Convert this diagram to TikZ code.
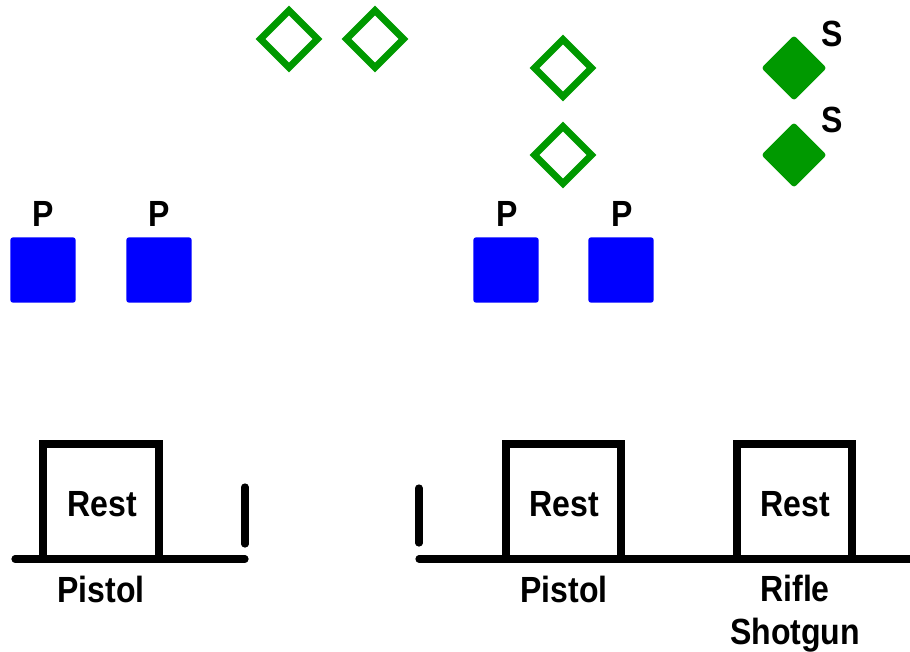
\documentclass[tikz,border=0pt]{standalone}
\usepackage{fontspec}
\setmainfont{Liberation Sans}[FakeStretch=0.88]
\usetikzlibrary{shapes.geometric,positioning}

\definecolor{plategreen}{RGB}{0,153,0}
\definecolor{targetblue}{RGB}{0,0,255}

\tikzset{
  lbl/.style={font=\fontsize{27.3}{33}\selectfont\bfseries, inner sep=0pt, anchor=base},
  opendia/.style={diamond, draw=plategreen, line width=5.2pt, inner sep=0pt, minimum size=45pt},
  fulldia/.style={diamond, fill=plategreen, rounded corners=2pt, inner sep=0pt, minimum size=49pt},
  bluesq/.style={rectangle, fill=targetblue, rounded corners=2pt, inner sep=0pt, minimum size=49pt},
  wall/.style={line width=5.4pt, line cap=round},
  restbox/.style={line width=5.4pt, line join=miter}
}

\begin{document}
\begin{tikzpicture}[x=0.75pt,y=0.75pt,yscale=-1,xscale=1]
	\useasboundingbox (0,0) rectangle (910,651);
	
	% Open plates
	\node[opendia] (o1) at (289,39) {};
	\node[opendia] (o2) at (375,39) {};
	\node[opendia] (o3) at (563,68) {};
	\node[opendia] (o4) at (563,155) {};
	% Shotgun plates
	\node[fulldia] (s1) at (794,68) {};
	\node[fulldia] (s2) at (794,155) {};
	% Text Node
	\node[lbl] (s1t) at (832,46) {S};
	% Text Node
	\node[lbl] (s2t) at (832,132) {S};
	
	% Pistol targets
	\node[bluesq] (p1) at (43,270) {};
	\node[bluesq] (p2) at (159,270) {};
	\node[bluesq] (p3) at (506,270) {};
	\node[bluesq] (p4) at (621,270) {};
	% Text Node
	\node[lbl] (p1t) at (43,226) {P};
	% Text Node
	\node[lbl] (p2t) at (159,226) {P};
	% Text Node
	\node[lbl] (p3t) at (507,226) {P};
	% Text Node
	\node[lbl] (p4t) at (622,226) {P};
	
	% Left bay
	\draw[wall] (15,559) -- (245,559) ;
	\draw[wall] (245,487) -- (245,544) ;
	\draw[restbox] (43,559) -- (43,444) -- (159,444) -- (159,559) ;
	% Text Node
	\node[lbl] (r1) at (102,516) {Rest};
	% Text Node
	\node[lbl] (g1) at (101,602) {Pistol};
	
	% Right bay
	\draw[wall] (419,559) -- (920,559) ;
	\draw[wall] (419,488) -- (419,543) ;
	\draw[restbox] (506,559) -- (506,444) -- (621,444) -- (621,559) ;
	\draw[restbox] (737,559) -- (737,444) -- (852,444) -- (852,559) ;
	% Text Node
	\node[lbl] (r2) at (564,516) {Rest};
	% Text Node
	\node[lbl] (r3) at (795,516) {Rest};
	% Text Node
	\node[lbl] (g2) at (564,602) {Pistol};
	% Text Node
	\node[lbl] (g3) at (795,601) {Rifle};
	% Text Node
	\node[lbl] (g4) at (795,644) {Shotgun};
	
\end{tikzpicture}
\end{document}
